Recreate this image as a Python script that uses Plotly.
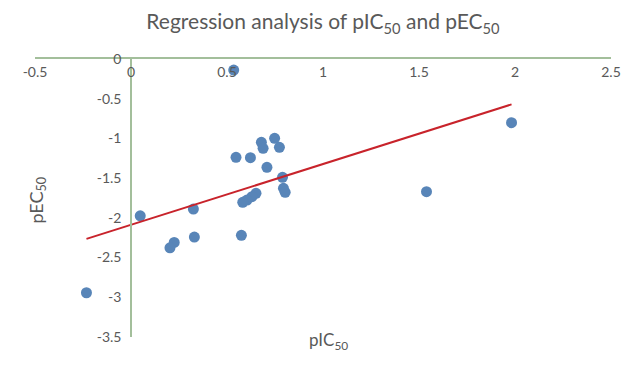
import numpy as np
import plotly.graph_objects as go

pic50 = [0.535, 1.982, 0.748, 0.679, 0.688, 0.773, 0.547, 0.622, 0.708, 0.789,
         0.794, 0.803, 1.539, 0.651, 0.630, 0.604, 0.582, 0.048, 0.325, 0.575,
         0.330, 0.225, 0.203, -0.232]
pec50 = [-0.139, -0.802, -0.999, -1.049, -1.125, -1.112, -1.238, -1.243, -1.364, -1.490,
         -1.628, -1.679, -1.671, -1.691, -1.734, -1.776, -1.805, -1.974, -1.889, -2.220,
         -2.242, -2.309, -2.377, -2.943]

x_ticks = [-0.5, 0, 0.5, 1, 1.5, 2, 2.5]
y_ticks = [0, -0.5, -1, -1.5, -2, -2.5, -3, -3.5]

slope, intercept = np.polyfit(pic50, pec50, 1)
fit_x = [min(pic50), max(pic50)]
fit_y = [slope * v + intercept for v in fit_x]

FONT = "Lato"
GREY = "#595959"
AXIS = "#a3bf9b"

W, H = 633, 367
l, r, t, b = 35, 19, 59, 30
pw, ph = W - l - r, H - t - b


def px_to_paper(xp, yp):
    return (xp - l) / pw, (H - b - yp) / ph


fig = go.Figure()
fig.add_trace(go.Scatter(x=pic50, y=pec50, mode="markers",
                         marker=dict(size=11, color="#5885b8"), showlegend=False,
                         cliponaxis=False))
fig.add_trace(go.Scatter(x=fit_x, y=fit_y, mode="lines",
                         line=dict(color="#c8232b", width=2), showlegend=False))

ax_x, ax_y = px_to_paper(330, 355)
ay_x, ay_y = px_to_paper(22, 200)

fig.update_layout(
    width=W, height=H,
    margin=dict(l=l, r=r, t=t, b=b),
    paper_bgcolor="white", plot_bgcolor="white",
    font=dict(family=FONT, color=GREY, size=14),
    title=dict(text="Regression analysis of pIC<sub>50</sub> and pEC<sub>50</sub>",
               x=0.5, xref="paper", xanchor="center",
               y=1 - 22 / H, yref="container", yanchor="middle",
               font=dict(family=FONT, size=21, color=GREY)),
    xaxis=dict(range=[-0.5, 2.5], tickvals=x_ticks, ticktext=[f"{v:g}" for v in x_ticks],
               side="top", ticklabelposition="inside", ticklabeloverflow="allow",
               showline=True, linecolor=AXIS, linewidth=1.5, mirror=False,
               showgrid=False, zeroline=False, ticks="", domain=[0, 1],
               tickfont=dict(size=14, color=GREY, family=FONT), ticklabelstandoff=8),
    yaxis=dict(range=[-3.5, 0], tickvals=y_ticks, ticktext=[f"{v:g}" for v in y_ticks],
               anchor="free", position=1 / 6, side="left",
               showline=True, linecolor=AXIS, linewidth=1.5,
               showgrid=False, zeroline=False, ticks="", domain=[0, 1],
               tickfont=dict(size=14, color=GREY, family=FONT), ticklabelstandoff=6),
    annotations=[
        dict(text="pIC<sub>50</sub>", x=ax_x, y=ax_y, xref="paper", yref="paper",
             showarrow=False, font=dict(size=17, color=GREY, family=FONT)),
        dict(text="pEC<sub>50</sub>", x=ay_x, y=ay_y, xref="paper", yref="paper",
             showarrow=False, textangle=-90, font=dict(size=18, color=GREY, family=FONT)),
    ],
)

fig.write_html("out.html")
